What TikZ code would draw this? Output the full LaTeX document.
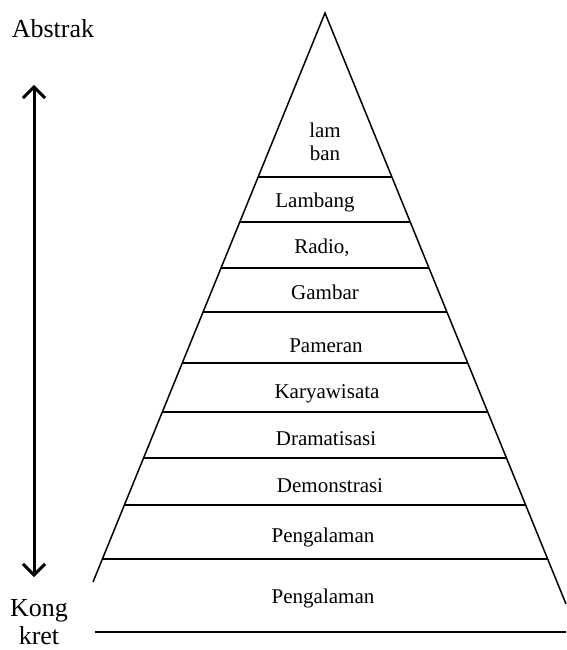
\documentclass[tikz,border=0pt]{standalone}
\usepackage{fontspec}
\setmainfont{Liberation Serif}
\usetikzlibrary{calc, arrows.meta}

\begin{document}
\begin{tikzpicture}[x=1pt, y=-1pt,
	edge/.style={line width=1.5pt},
	layertext/.style={anchor=base, font=\fontsize{21}{23}\selectfont, align=center},
	sidetext/.style={anchor=base, font=\fontsize{26}{28}\selectfont, align=center},
	scalearrow/.style={line width=3pt, >={Straight Barb[length=11pt,width=22pt]}, <->}]
	\useasboundingbox (0,0) rectangle (566,650);

	% pyramid sides
	\coordinate (apex) at (325,13);
	\coordinate (left) at (93,582);
	\coordinate (right) at (566,604);
	\draw[edge] (left) -- (apex) -- (right);

	% layer lines
	\foreach \y [count=\i] in {177,222,268,312,363,412,458,505,559}{
		\coordinate (l\i) at ($(apex)!{(\y-13)/569}!(left)$);
		\coordinate (r\i) at ($(apex)!{(\y-13)/569}!(557,582)$);
		\draw[edge] (l\i) -- (r\i);
	}
	\coordinate (b1) at (95,632);
	\coordinate (b2) at (566,632);
	\draw[edge] (b1) -- (b2);

	% labels in the layers
	\node[layertext](top) at (325,160) {lam\\ban};
	\node[layertext](lambang) at (315,207) {Lambang};
	\node[layertext](radio) at (322,253) {Radio,};
	\node[layertext](gambar) at (325,299) {Gambar};
	\node[layertext](pameran) at (326,352) {Pameran};
	\node[layertext](karya) at (327,398) {Karyawisata};
	\node[layertext](drama) at (326,445) {Dramatisasi};
	\node[layertext](demo) at (330,492) {Demonstrasi};
	\node[layertext](peng) at (323,542) {Pengalaman};
	\node[layertext](peng2) at (323,603) {Pengalaman};

	% the scale on the left
	\node[sidetext](abstrak) at (53,38) {Abstrak};
	\node[sidetext](konkret) at (39,644) {Kong\\kret};
	\coordinate (up) at (34,85);
	\coordinate (down) at (34,577);
	\draw[scalearrow] (down) -- (up);
\end{tikzpicture}
\end{document}
